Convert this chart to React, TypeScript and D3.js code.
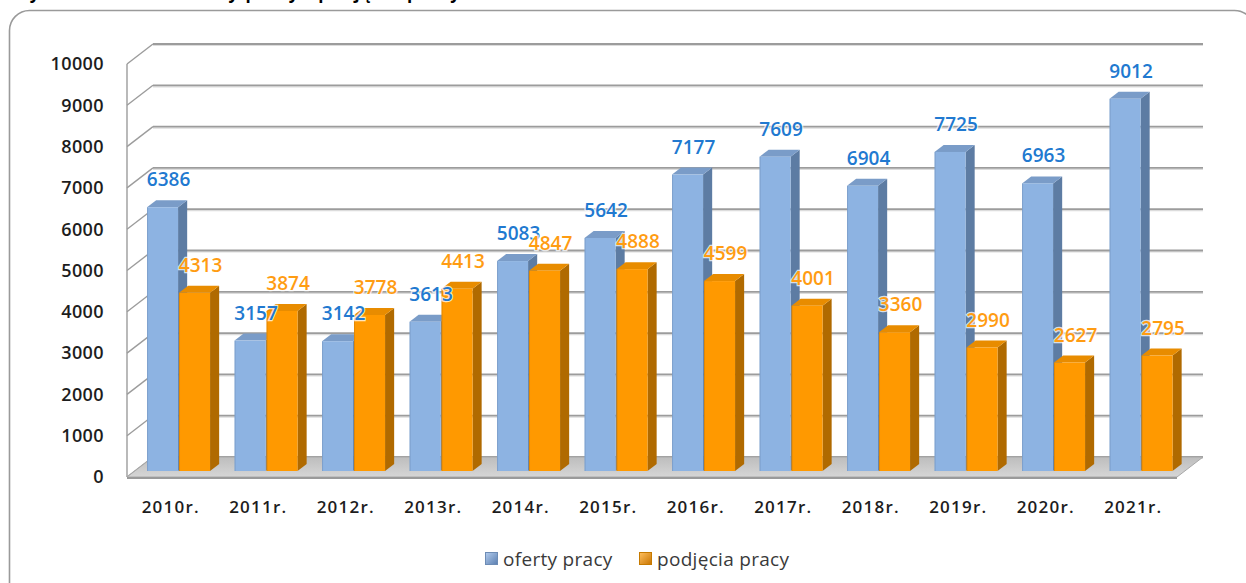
import React from 'react';
import * as d3 from 'd3';

// Data
const years = ['2010r.', '2011r.', '2012r.', '2013r.', '2014r.', '2015r.', '2016r.', '2017r.', '2018r.', '2019r.', '2020r.', '2021r.'];
const ofertyPracy = [6386, 3157, 3142, 3613, 5083, 5642, 7177, 7609, 6904, 7725, 6963, 9012];
const podjeciaPracy = [4313, 3874, 3778, 4413, 4847, 4888, 4599, 4001, 3360, 2990, 2627, 2795];
const seriesNames = ['oferty pracy', 'podjęcia pracy'];
const yTicks = [0, 1000, 2000, 3000, 4000, 5000, 6000, 7000, 8000, 9000, 10000];
const title = 'Wykres 1. Wolne oferty pracy i podjęcia pracy';

const W = 1246;
const H = 583;

// 3D look: front plane -> back wall offset
const DX = 26;
const DY = 20;
const Z0 = 0.3; // bar front depth
const Z1 = 0.65; // bar back depth

const palette = [
  { front: '#8db3e2', side: '#5d7ca3', top: '#7a9cc8', label: '#2179d0', g0: '#b4cdee', g1: '#5a7eb0' },
  { front: '#ff9900', side: '#b06a00', top: '#e88c00', label: '#ff9c12', g0: '#ffc060', g1: '#c87400' },
];

const x0 = d3.scaleBand<string>()
  .domain(years)
  .range([127, 1177])
  .paddingInner(0.28)
  .paddingOuter(0.14);

const x1 = d3.scaleBand<string>()
  .domain(seriesNames)
  .range([0, x0.bandwidth()])
  .paddingInner(0.03);

const y = d3.scaleLinear().domain([0, 10000]).range([477, 64]);

// project a point of the front plane back by depth z (0..1)
function proj(x: number, v: number, z: number): [number, number] {
  return [x + z * DX, y(v) - z * DY];
}

function pts(list: [number, number][]) {
  return list.map((p) => p.join(',')).join(' ');
}

export default function App() {
  const [xl, xr] = x0.range();
  const values = [ofertyPracy, podjeciaPracy];
  const font = '"Open Sans", Lato, sans-serif';

  const bars: JSX.Element[] = [];
  const labels: JSX.Element[] = [];

  years.forEach((yr, i) => {
    seriesNames.forEach((s, si) => {
      const v = values[si][i];
      const c = palette[si];
      const bx = (x0(yr) as number) + (x1(s) as number);
      const bw = x1.bandwidth();
      const [fx, fy] = proj(bx, v, Z0);
      const [, fb] = proj(bx, 0, Z0);
      bars.push(
        <g key={`${yr}-${s}`}>
          <polygon
            fill={c.side}
            points={pts([proj(bx + bw, 0, Z0), proj(bx + bw, v, Z0), proj(bx + bw, v, Z1), proj(bx + bw, 0, Z1)])}
          />
          <polygon
            fill={c.top}
            points={pts([proj(bx, v, Z0), proj(bx + bw, v, Z0), proj(bx + bw, v, Z1), proj(bx, v, Z1)])}
          />
          <rect x={fx} y={fy} width={bw} height={fb - fy} fill={c.front} />
          <line x1={fx + 0.5} y1={fy} x2={fx + 0.5} y2={fb} stroke={c.side} strokeOpacity={0.35} />
        </g>
      );
      labels.push(
        <text
          key={`l-${yr}-${s}`}
          x={fx + bw / 2 + 6}
          y={fy - 21}
          textAnchor="middle"
          fontFamily={font}
          fontWeight={600}
          fontSize={19}
          fill={c.label}
          stroke="#ffffff"
          strokeWidth={2.5}
          strokeOpacity={0.75}
          paintOrder="stroke"
        >
          {v}
        </text>
      );
    });
  });

  const floorFront = [proj(xl, 0, 0), proj(xr, 0, 0)];
  const floorBack = [proj(xr, 0, 1), proj(xl, 0, 1)];

  return (
    <svg width={W} height={H} style={{ position: 'absolute', left: 0, top: 0, background: '#fff' }}>
      <defs>
        <linearGradient id="floorG" x1="0" y1="0" x2="0" y2="1">
          <stop offset="0" stopColor="#bdbdbd" />
          <stop offset="1" stopColor="#d6d6d6" />
        </linearGradient>
        {palette.map((c, i) => (
          <linearGradient key={i} id={`leg${i}`} x1="0" y1="0" x2="1" y2="1">
            <stop offset="0" stopColor={c.g0} />
            <stop offset="1" stopColor={c.g1} />
          </linearGradient>
        ))}
      </defs>

      {/* cut-off title */}
      <text x={12} y={-1} fontFamily={font} fontWeight="bold" fontSize={17} fill="#000" textLength={448} lengthAdjust="spacing">
        {title}
      </text>

      {/* outer frame */}
      <rect x={9.5} y={10.5} width={1245} height={620} rx={20} fill="none" stroke="#9a9a9a" strokeWidth={1.6} />

      {/* back wall + left wall grid */}
      <g>
        {yTicks.map((t) => {
          const [ax, ay] = proj(xl, t, 1);
          const [bx, by] = proj(xr, t, 1);
          const [lx, ly] = proj(xl, t, 0);
          return (
            <g key={t}>
              <line x1={ax} y1={ay + 1.5} x2={bx} y2={by + 1.5} stroke="#dcdcdc" strokeWidth={1.2} />
              <line x1={ax} y1={ay} x2={bx} y2={by} stroke="#9c9c9c" strokeWidth={1.8} />
              <line x1={lx} y1={ly} x2={ax} y2={ay} stroke="#9c9c9c" strokeWidth={1.4} />
            </g>
          );
        })}
        <line
          x1={proj(xl, 0, 0)[0]} y1={proj(xl, 0, 0)[1]}
          x2={proj(xl, 10000, 0)[0]} y2={proj(xl, 10000, 0)[1]}
          stroke="#9c9c9c" strokeWidth={1.4}
        />
      </g>

      {/* floor */}
      <polygon points={pts([...floorFront, ...floorBack])} fill="url(#floorG)" stroke="#a8a8a8" strokeWidth={1} />
      <line x1={floorFront[0][0]} y1={floorFront[0][1] + 1} x2={floorFront[1][0]} y2={floorFront[1][1] + 1} stroke="#9a9a9a" strokeWidth={2} />

      {/* y axis labels */}
      {yTicks.map((t) => (
        <text
          key={`yt-${t}`}
          x={104}
          y={y(t)}
          dy="0.35em"
          textAnchor="end"
          fontFamily={font}
          fontWeight={600}
          fontSize={18}
          letterSpacing={0.4}
          fill="#1d1d1d"
        >
          {t}
        </text>
      ))}

      {/* x axis labels */}
      {years.map((yr) => (
        <text
          key={`xt-${yr}`}
          x={(x0(yr) as number) + x0.bandwidth() / 2}
          y={513}
          textAnchor="middle"
          fontFamily={font}
          fontWeight={600}
          fontSize={17}
          letterSpacing={1.2}
          fill="#1d1d1d"
        >
          {yr}
        </text>
      ))}

      {bars}
      {labels}

      {/* legend */}
      <g fontFamily={font} fontSize={19} letterSpacing={0.3} fill="#3a3a3a">
        <rect x={485.5} y={552.5} width={12} height={12} fill="url(#leg0)" stroke="#6d8cb5" />
        <text x={503} y={566}>{seriesNames[0]}</text>
        <rect x={639.5} y={552.5} width={12} height={12} fill="url(#leg1)" stroke="#c67a00" />
        <text x={657} y={566}>{seriesNames[1]}</text>
      </g>
    </svg>
  );
}
